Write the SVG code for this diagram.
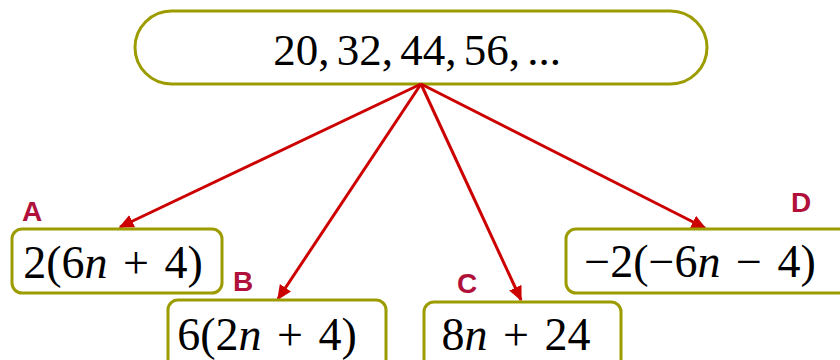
<svg xmlns="http://www.w3.org/2000/svg" width="840" height="360" viewBox="0 0 840 360">
<defs>
<marker id="ah" viewBox="0 0 10 10" refX="9" refY="5" markerWidth="5" markerHeight="5" orient="auto" markerUnits="strokeWidth">
<path d="M0,0.5 L10,5 L0,9.5 z" fill="#cc0000"/>
</marker>
<style>
.box{fill:#fff;stroke:#9c9c00;stroke-width:3}
.math{font-family:"Liberation Serif","DejaVu Serif",serif;font-size:46px;fill:#000;text-anchor:middle;word-spacing:4px}
.top{font-size:45px;word-spacing:-4px}
.lbl{font-family:"Liberation Sans",Arial,sans-serif;font-weight:bold;font-size:28px;fill:#b0103a}
.con{stroke:#cc0000;stroke-width:3;fill:none;marker-end:url(#ah)}
</style>
</defs>
<rect width="840" height="360" fill="#fff"/>
<g id="top">
<rect class="box" x="135" y="11" width="572" height="73" rx="36.5"/>
<text class="math top" x="417" y="65">20, 32, 44, 56, ...</text>
</g>
<g id="connectors">
<line class="con" x1="421" y1="84" x2="120" y2="227"/>
<line class="con" x1="421" y1="84" x2="278" y2="299"/>
<line class="con" x1="421" y1="84" x2="521" y2="300"/>
<line class="con" x1="421" y1="84" x2="705" y2="228"/>
</g>
<g id="nodeA">
<rect class="box" x="12" y="229" width="210" height="64" rx="10"/>
<text class="math" x="113" y="278"><tspan>2(6</tspan><tspan font-style="italic">n</tspan><tspan> + 4)</tspan></text>
<text class="lbl" x="22" y="221">A</text>
</g>
<g id="nodeB">
<rect class="box" x="168" y="300" width="218" height="70" rx="10"/>
<text class="math" x="267" y="350"><tspan>6(2</tspan><tspan font-style="italic">n</tspan><tspan> + 4)</tspan></text>
<text class="lbl" x="233" y="291">B</text>
</g>
<g id="nodeC">
<rect class="box" x="424" y="302" width="197" height="68" rx="10"/>
<text class="math" x="516" y="350"><tspan>8</tspan><tspan font-style="italic">n</tspan><tspan> + 24</tspan></text>
<text class="lbl" x="457" y="293">C</text>
</g>
<g id="nodeD">
<rect class="box" x="566" y="229" width="290" height="64" rx="10"/>
<text class="math" x="700" y="277"><tspan>−2(−6</tspan><tspan font-style="italic">n</tspan><tspan> − 4)</tspan></text>
<text class="lbl" x="791" y="212">D</text>
</g>
</svg>
